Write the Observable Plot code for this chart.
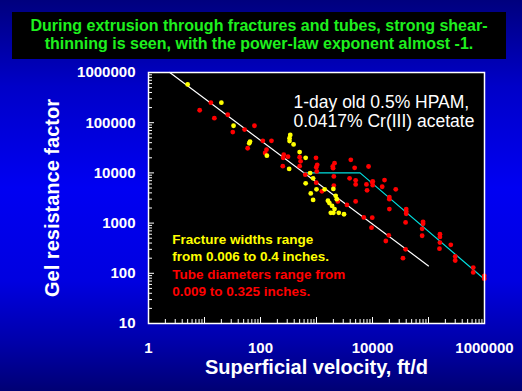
<!DOCTYPE html>
<html>
<head>
<meta charset="utf-8">
<script src="https://cdn.jsdelivr.net/npm/d3@7"></script>
<script src="https://cdn.jsdelivr.net/npm/@observablehq/plot@0.6"></script>
<style>
  html, body { margin: 0; padding: 0; background: #000080; }
  #wrap {
    position: relative; width: 522px; height: 391px; overflow: hidden;
    background: linear-gradient(to bottom, #00007e 0%, #0000c8 22%, #0000f2 48%, #0000e0 72%, #0000a8 88%, #000074 100%);
    font-family: "Liberation Sans", Arial, sans-serif;
  }
  #titlebar { position: relative; height: 62px; }
  #titlebox {
    position: absolute; left: 12px; top: 12px; width: 494px; height: 47px;
    box-sizing: border-box; padding-top: 5px;
    background: #000; color: #1ef01e; font-weight: bold; font-size: 16px;
    line-height: 18px; text-align: center; white-space: nowrap;
  }
  #chart svg { display: block; }
</style>
</head>
<body>
<div id="wrap">
  <div id="titlebar"><div id="titlebox">During extrusion through fractures and tubes, strong shear-<br>thinning is seen, with the power-law exponent almost -1.</div></div>
  <div id="chart"></div>
</div>
<script>
// Fractures (yellow)
const fractureVelocity = [5, 20, 33, 65, 63, 130, 340, 330, 330, 390, 500, 640, 325, 770, 870, 640, 1000, 1400, 2000, 790, 2200, 870, 1600, 1700, 1900, 2100, 1800, 2000, 2500, 3100, 2300];
const fractureGRF = [580000, 250000, 87000, 42000, 39000, 22000, 57000, 49000, 43000, 37000, 26000, 20000, 12000, 9900, 7800, 6200, 4700, 4700, 4800, 3900, 3500, 2900, 2800, 2500, 2200, 1900, 1600, 1600, 1600, 1500, 3000];
// Tubes (red)
const tubeVelocity = [8.2, 13, 15, 26, 32, 52, 78, 59, 110, 157, 128, 121, 260, 254, 310, 250, 500, 520, 500, 980, 1030, 990, 1010, 2100, 1950, 1980, 2040, 2040, 630, 990, 1250, 2400, 4800, 8500, 3900, 5000, 5000, 9900, 7800, 8000, 5000, 3500, 7000, 9900, 9600, 10100, 10100, 16400, 14900, 26000, 20000, 20000, 20000, 40000, 40000, 40000, 39000, 80000, 80000, 77000, 77000, 160000, 160000, 160000, 157000, 250000, 300000, 300000, 630000, 630000, 990000, 990000, 19500, 17300, 39000, 35000, 4100];
const tubeGRF = [177000, 250000, 123000, 144000, 65000, 73000, 87000, 31000, 43500, 43500, 29000, 25000, 23000, 20000, 21000, 13600, 20600, 17000, 13600, 20000, 14500, 13000, 10700, 15600, 13400, 12400, 8500, 5600, 9200, 6400, 4300, 2700, 12600, 13400, 7800, 7100, 5900, 6500, 5900, 4500, 2700, 2300, 1300, 1280, 810, 6800, 5700, 7200, 5300, 4700, 3300, 3000, 1900, 1900, 1700, 1530, 1030, 1060, 970, 770, 560, 600, 530, 410, 310, 370, 216, 180, 130, 104, 89, 78, 570, 440, 300, 200, 18200];
// Fit lines
const fitWhiteX = [2.4, 100000];
const fitWhiteY = [1000000, 140];
const fitCyanX = [590, 6000, 1000000];
const fitCyanY = [10000, 10000, 76];
// Tick labels
const xTickLabels = [1, 100, 10000, 1000000];
const yTickLabels = [10, 100, 1000, 10000, 100000, 1000000];

const fractures = fractureVelocity.map((v, i) => ({v, g: fractureGRF[i]}));
const tubes = tubeVelocity.map((v, i) => ({v, g: tubeGRF[i]}));
const whiteLine = fitWhiteX.map((v, i) => ({v, g: fitWhiteY[i]}));
const cyanLine = fitCyanX.map((v, i) => ({v, g: fitCyanY[i]}));

const xDecades = d3.range(0, 7).map(k => 10 ** k);
const yDecades = d3.range(1, 7).map(k => 10 ** k);
const xMinor = d3.range(0, 6).flatMap(k => d3.range(2, 10).map(m => m * 10 ** k));
const yMinor = d3.range(1, 6).flatMap(k => d3.range(2, 10).map(m => m * 10 ** k));

const W = 522, H = 329, mL = 148, mR = 38, mT = 10, mB = 68;
const pw = W - mL - mR, ph = H - mT - mB;
const font = "'Liberation Sans', Arial, sans-serif";

const chart = Plot.plot({
  width: W, height: H,
  marginLeft: mL, marginRight: mR, marginTop: mT, marginBottom: mB,
  x: {type: "log", domain: [1, 1000000]},
  y: {type: "log", domain: [10, 1000000]},
  style: {background: "transparent", color: "white", fontFamily: font, fontSize: "15px", fontWeight: "bold", overflow: "visible"},
  marks: [
    Plot.frame({fill: "black"}),
    Plot.tickX(xMinor, {x: d => d, stroke: "white", insetTop: ph - 4}),
    Plot.tickX(xDecades, {x: d => d, stroke: "white", insetTop: ph - 6}),
    Plot.tickY(yMinor, {y: d => d, stroke: "white", insetRight: pw - 4}),
    Plot.tickY(yDecades, {y: d => d, stroke: "white", insetRight: pw - 6}),
    Plot.axisX({ticks: xTickLabels, tickSize: 0, tickPadding: 18.5, tickFormat: d => String(d), label: null, fontSize: 15, fontWeight: "bold"}),
    Plot.axisY({ticks: yTickLabels, tickSize: 0, tickPadding: 13, tickFormat: d => String(d), label: null, fontSize: 15, fontWeight: "bold"}),
    Plot.line(whiteLine, {x: "v", y: "g", stroke: "white", strokeWidth: 1.2}),
    Plot.line(cyanLine, {x: "v", y: "g", stroke: "#00e0e0", strokeWidth: 1.2}),
    Plot.dot(tubes, {x: "v", y: "g", r: 2.4, fill: "#ff0000"}),
    Plot.dot(fractures, {x: "v", y: "g", r: 2.4, fill: "#ffff00"}),
    Plot.text(["1-day old 0.5% HPAM,\n0.0417% Cr(III) acetate"], {frameAnchor: "top-left", dx: 145, dy: 21.6, textAnchor: "start", lineAnchor: "top", lineHeight: 1.09, fontSize: 17.5, fontWeight: "normal", fill: "white"}),
    Plot.text(["Fracture widths range\nfrom 0.006 to 0.4 inches."], {frameAnchor: "top-left", dx: 23.7, dy: 159.4, textAnchor: "start", lineAnchor: "top", lineHeight: 1.26, fontSize: 13.5, fontWeight: "bold", fill: "#ffff00"}),
    Plot.text(["Tube diameters range from\n0.009 to 0.325 inches."], {frameAnchor: "top-left", dx: 23.7, dy: 194.4, textAnchor: "start", lineAnchor: "top", lineHeight: 1.24, fontSize: 13.5, fontWeight: "bold", fill: "#ff0000"}),
    Plot.text(["Gel resistance factor"], {frameAnchor: "left", dx: -96, rotate: -90, textAnchor: "middle", lineAnchor: "middle", fontSize: 20, fontWeight: "bold", fill: "white"}),
    Plot.text(["Superficial velocity, ft/d"], {frameAnchor: "bottom", dy: 43.7, textAnchor: "middle", lineAnchor: "middle", fontSize: 20, fontWeight: "bold", fill: "white"}),
    Plot.frame({stroke: "white", strokeWidth: 1.5})
  ]
});
document.getElementById("chart").appendChild(chart);
</script>
</body>
</html>
